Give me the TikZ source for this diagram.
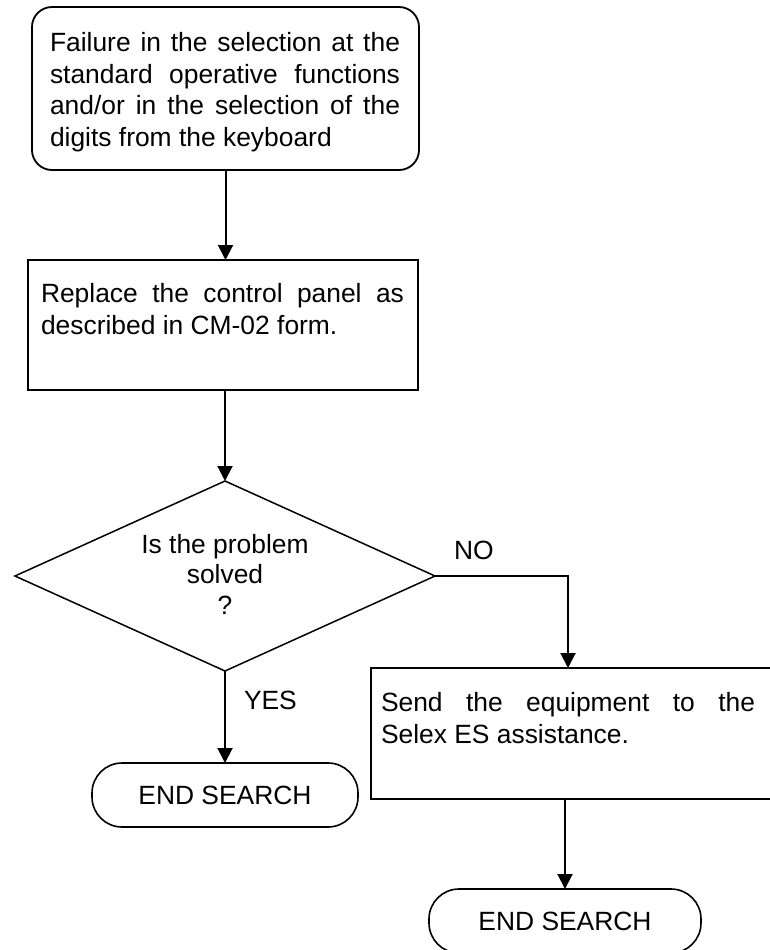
\documentclass[tikz,border=0pt]{standalone}
\usepackage{fontspec}
\setmainfont{Liberation Sans}
\usetikzlibrary{shapes.geometric,arrows.meta}

\newcommand\bodyfont{\fontsize{26.4pt}{31.5pt}\selectfont}

\tikzset{
  flowline/.style={line width=2pt, -{Triangle[width=15pt,length=15pt]}},
  procbox/.style={draw, line width=2pt, rectangle, inner sep=0pt, outer sep=0pt},
  startbox/.style={draw, line width=1.8pt, rectangle, rounded corners=20pt,
                   inner sep=0pt, outer sep=0pt},
  endbox/.style={draw, line width=1.6pt, rectangle, rounded corners=30pt,
                 inner sep=0pt, outer sep=0pt, minimum height=64pt, font=\bodyfont},
  decision/.style={draw, diamond, line width=1.5pt, inner sep=0pt, outer sep=0pt,
                   aspect=2.2},
  bodytext/.style={inner sep=0pt, outer sep=0pt, anchor=base west, font=\bodyfont},
}

\begin{document}
\begin{tikzpicture}[x=1pt,y=-1pt]
  \useasboundingbox (0,0) rectangle (770,950);
  \fill[white] (0,0) rectangle (770,950);
  \clip (0,0) rectangle (770,950);

  % starting condition
  \node[startbox, minimum width=387pt, minimum height=163pt] (start) at (225.5,88.5) {};
  \node[bodytext] (starttxt) at (50,52) {\parbox[t]{350pt}{%
      \makebox[350pt][s]{Failure in the selection at the}\\
      \makebox[350pt][s]{standard operative functions}\\
      \makebox[350pt][s]{and/or in the selection of the}\\
      digits from the keyboard}};

  % first action
  \node[procbox, minimum width=390pt, minimum height=130pt] (replace) at (223,325) {};
  \node[bodytext] (replacetxt) at (41,302.7) {\parbox[t]{363pt}{%
      \makebox[363pt][s]{Replace the control panel as}\\
      described in CM-02 form.}};

  % decision
  \node[decision, minimum width=420pt, minimum height=190pt] (check) at (225,576) {};
  \node[inner sep=0pt, outer sep=0pt, anchor=base, font=\bodyfont] (checktxt) at (225,553)
    {\parbox[t]{250pt}{\baselineskip=30.5pt\centering Is the problem\\ solved\\ ?}};

  \node[bodytext] (nolbl) at (454,559.3) {NO};
  \node[bodytext] (yeslbl) at (244,709.3) {YES};

  % second action
  \node[procbox, minimum width=409pt, minimum height=131pt] (send) at (575.5,733.5) {};
  \node[bodytext] (sendtxt) at (381,711.7) {\parbox[t]{374pt}{%
      \makebox[374pt][s]{Send the equipment to the}\\
      Selex ES assistance.}};

  % terminals
  \node[endbox, minimum width=266pt] (endA) at (225,795) {END SEARCH};
  \node[endbox, minimum width=272pt] (endB) at (565,921) {END SEARCH};

  % connectors
  \draw[flowline] (start.south) -- (start.south |- replace.north);
  \draw[flowline] (check.north |- replace.south) -- (check.north);
  \draw[flowline] (check.south) -- (endA.north);
  \coordinate (nobend) at (568,576);
  \draw[flowline] (check.east) -- (nobend) -- (nobend |- send.north);
  \draw[flowline] (endB.north |- send.south) -- (endB.north);
\end{tikzpicture}
\end{document}
